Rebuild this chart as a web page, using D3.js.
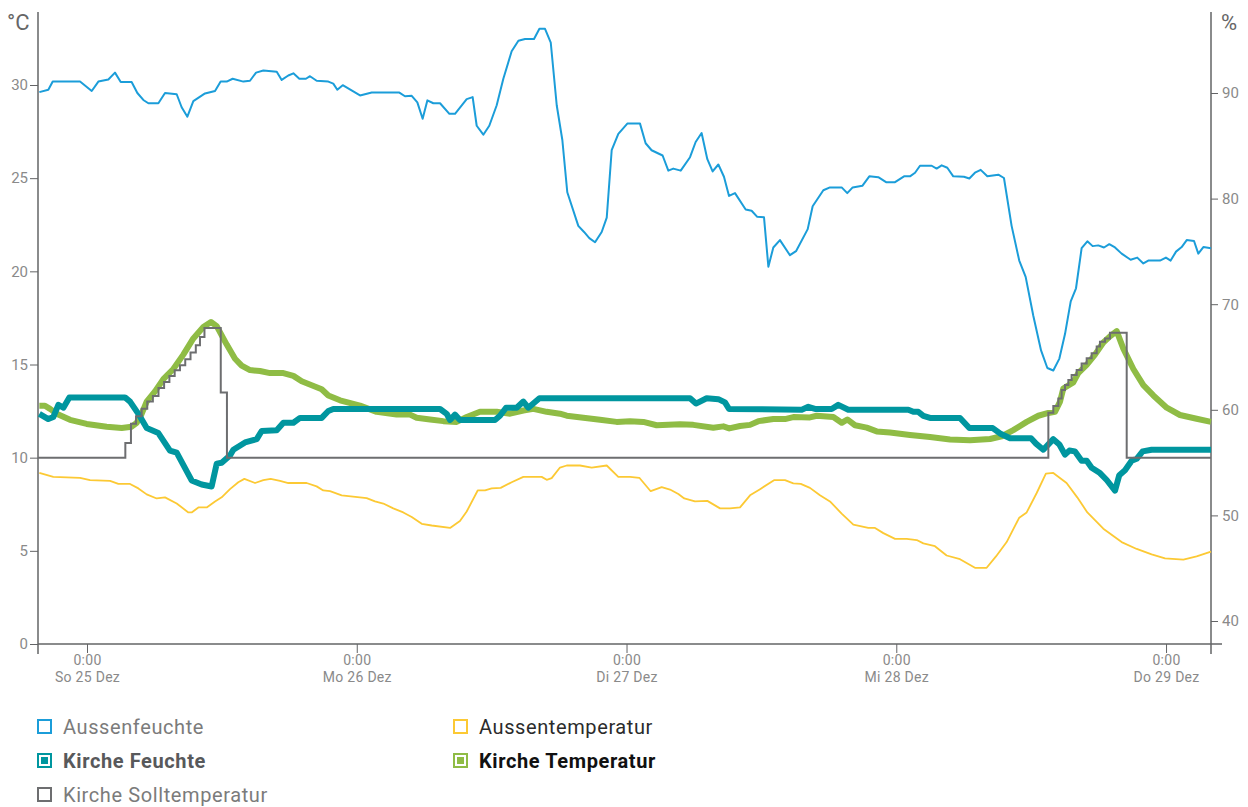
<!DOCTYPE html>
<html>
<head>
<meta charset="utf-8">
<script src="https://cdn.jsdelivr.net/npm/d3@7"></script>
<style>
  body { margin: 0; background: #fff; }
  svg text { font-family: Roboto, "Noto Sans", sans-serif; }
</style>
</head>
<body>
<div id="chart"></div>
<script>
// hours since So 25 Dez 0:00, value
var aussenfeuchte = [[-4.24,90.08],[-3.44,90.31],[-3.05,91.08],[-0.62,91.08],[0.42,90.19],[1.01,91.08],[1.90,91.28],[2.49,91.93],[3.00,91.04],[3.97,91.04],[4.48,90.0],[5.01,89.34],[5.46,89.03],[6.35,89.03],[6.94,90.0],[7.98,89.88],[8.42,88.65],[8.93,87.76],[9.46,89.23],[10.50,89.96],[11.39,90.19],[11.89,91.08],[12.43,91.08],[12.96,91.35],[13.91,91.08],[14.50,91.16],[15.04,91.93],[15.69,92.13],[16.88,92.01],[17.32,91.24],[17.91,91.66],[18.36,91.86],[18.89,91.35],[19.48,91.35],[19.84,91.59],[20.43,91.16],[21.47,91.08],[21.91,90.89],[22.27,90.31],[22.75,90.74],[24.29,89.77],[25.33,90.04],[27.79,90.04],[28.29,89.69],[28.89,89.73],[29.39,89.11],[29.86,87.56],[30.28,89.30],[30.81,89.03],[31.41,89.03],[32.24,88.03],[32.74,88.03],[33.78,89.42],[34.31,89.61],[34.67,86.90],[35.26,86.05],[35.79,86.90],[36.45,88.84],[37.04,91.35],[37.78,93.95],[38.38,94.95],[38.97,95.11],[39.77,95.11],[40.25,96.08],[40.75,96.08],[41.26,94.76],[41.79,88.84],[42.29,85.55],[42.73,80.60],[43.71,77.42],[44.22,76.84],[44.69,76.26],[45.20,75.87],[45.79,76.84],[46.24,78.20],[46.68,84.58],[47.27,86.13],[48.07,87.10],[49.20,87.10],[49.70,85.24],[50.23,84.58],[51.21,84.08],[51.72,82.65],[52.16,82.84],[52.82,82.65],[53.65,83.92],[54.15,85.36],[54.68,86.21],[55.19,83.73],[55.66,82.57],[56.17,83.23],[56.67,82.07],[57.12,80.25],[57.65,80.52],[58.60,78.97],[59.13,78.85],[59.63,78.27],[60.23,78.24],[60.62,73.55],[61.06,75.37],[61.65,76.07],[62.54,74.64],[63.08,75.02],[64.12,77.11],[64.56,79.28],[65.51,80.79],[66.10,81.06],[67.14,81.06],[67.64,80.52],[68.12,81.06],[68.98,81.21],[69.60,82.11],[70.40,82.03],[71.09,81.56],[71.89,81.56],[72.69,82.11],[73.22,82.11],[73.67,82.45],[74.11,83.11],[75.15,83.11],[75.59,82.84],[76.04,83.15],[76.54,82.92],[77.07,82.11],[78.02,82.07],[78.50,81.91],[79.00,82.45],[79.51,82.72],[80.10,82.11],[81.08,82.26],[81.58,81.95],[82.26,77.42],[82.94,74.13],[83.51,72.59],[84.19,68.91],[84.88,65.62],[85.44,63.96],[85.97,63.72],[86.51,64.85],[87.01,67.17],[87.52,70.27],[87.99,71.51],[88.49,75.30],[89.00,75.96],[89.47,75.50],[89.97,75.57],[90.48,75.37],[90.95,75.68],[91.46,75.37],[92.05,74.79],[92.85,74.21],[93.44,74.41],[93.98,73.86],[94.42,74.13],[95.46,74.13],[95.99,74.41],[96.41,74.13],[96.89,74.98],[97.39,75.41],[97.84,76.07],[98.49,75.99],[98.87,74.79],[99.32,75.41],[100.0,75.30]];

var aussentemperatur = [[-4.24,9.18],[-3.0,8.97],[-0.62,8.92],[0.27,8.79],[2.05,8.75],[2.79,8.59],[3.83,8.59],[4.57,8.35],[5.31,8.03],[6.20,7.81],[6.94,7.87],[7.98,7.54],[9.02,7.06],[9.31,7.06],[9.91,7.33],[10.65,7.33],[11.39,7.65],[11.98,7.87],[12.72,8.31],[13.46,8.68],[14.00,8.86],[14.95,8.64],[15.69,8.79],[16.34,8.86],[17.17,8.75],[17.91,8.64],[19.54,8.64],[20.43,8.46],[21.02,8.24],[21.62,8.20],[22.66,7.98],[24.88,7.83],[25.62,7.65],[26.36,7.54],[27.25,7.28],[28.14,7.06],[28.89,6.82],[29.78,6.45],[30.67,6.36],[32.30,6.23],[33.18,6.60],[33.78,7.11],[34.76,8.24],[35.41,8.24],[36.00,8.35],[36.80,8.38],[37.78,8.68],[38.82,8.97],[40.45,8.97],[40.90,8.81],[41.34,8.90],[42.08,9.47],[42.68,9.58],[43.86,9.58],[44.90,9.47],[46.24,9.58],[47.27,8.97],[48.31,8.97],[49.14,8.92],[50.15,8.20],[51.13,8.42],[51.87,8.29],[52.61,8.05],[53.14,7.81],[54.09,7.65],[55.19,7.68],[56.32,7.28],[57.21,7.28],[58.10,7.33],[58.99,7.98],[59.88,8.31],[61.12,8.79],[62.10,8.79],[62.84,8.62],[63.50,8.59],[64.32,8.38],[65.21,7.98],[66.10,7.65],[67.14,7.00],[68.18,6.41],[69.51,6.23],[70.11,6.23],[70.85,5.95],[71.89,5.64],[72.93,5.64],[73.82,5.58],[74.41,5.40],[75.44,5.25],[76.48,4.75],[77.67,4.55],[79.00,4.09],[80.04,4.09],[80.87,4.70],[81.82,5.47],[82.94,6.78],[83.60,7.06],[84.48,8.09],[85.31,9.14],[85.97,9.18],[87.15,8.64],[88.10,7.87],[89.00,7.06],[90.42,6.19],[92.05,5.47],[93.39,5.10],[94.72,4.81],[95.91,4.59],[97.54,4.53],[98.72,4.70],[100.0,4.96]];

var kircheFeuchte = [[-4.24,59.62],[-3.44,59.12],[-3.0,59.31],[-2.55,60.47],[-2.1,60.20],[-1.57,61.17],[3.38,61.17],[3.83,60.78],[4.57,59.62],[5.31,58.27],[6.35,57.80],[7.38,56.14],[7.98,55.95],[9.31,53.31],[10.20,52.93],[11.09,52.74],[11.54,54.90],[11.98,54.98],[12.72,55.67],[13.02,56.22],[14.06,56.91],[15.10,57.22],[15.54,57.99],[16.88,58.07],[17.47,58.77],[18.36,58.77],[18.95,59.23],[20.88,59.23],[21.47,59.89],[21.91,60.08],[31.41,60.08],[32.00,59.62],[32.30,59.04],[32.74,59.54],[33.18,59.04],[36.30,59.04],[36.74,59.43],[37.28,60.20],[38.23,60.20],[38.82,60.78],[39.26,60.20],[40.25,61.09],[53.65,61.09],[54.18,60.59],[55.13,61.09],[56.17,61.01],[56.76,60.70],[57.12,60.08],[63.59,60.01],[64.17,60.28],[64.77,60.08],[66.25,60.08],[66.84,60.47],[67.73,60.01],[73.07,60.01],[73.52,59.81],[73.96,59.81],[74.41,59.43],[75.0,59.23],[77.67,59.23],[78.50,58.27],[80.58,58.27],[81.23,57.76],[82.12,57.30],[83.99,57.30],[84.43,56.80],[85.08,56.22],[85.53,56.72],[85.97,57.22],[86.51,56.72],[87.01,55.75],[87.40,56.14],[87.90,56.06],[88.49,55.17],[88.94,55.17],[89.38,54.51],[90.12,54.01],[90.72,53.35],[91.46,52.34],[91.84,53.81],[92.35,54.28],[92.94,55.17],[93.39,55.36],[93.92,56.06],[94.72,56.22],[100.0,56.22]];

var kircheTemperatur = [[-4.24,12.79],[-3.74,12.79],[-3.29,12.62],[-2.70,12.36],[-1.51,12.03],[-0.03,11.81],[1.75,11.66],[3.09,11.59],[3.97,11.66],[4.42,11.87],[4.87,12.36],[5.31,13.01],[6.05,13.56],[6.79,14.21],[7.68,14.76],[8.57,15.53],[9.46,16.40],[10.35,17.01],[11.03,17.28],[11.54,17.06],[12.43,16.07],[13.17,15.31],[13.76,14.94],[14.50,14.70],[15.39,14.65],[16.28,14.54],[17.47,14.54],[18.36,14.39],[19.10,14.10],[19.99,13.89],[20.88,13.67],[21.47,13.34],[22.51,13.08],[24.29,12.79],[25.77,12.46],[27.55,12.31],[28.74,12.31],[29.33,12.14],[30.52,12.05],[31.70,11.96],[32.89,11.92],[33.78,12.18],[34.96,12.46],[36.45,12.46],[37.64,12.36],[38.82,12.53],[39.71,12.62],[40.90,12.46],[42.08,12.36],[42.68,12.25],[44.16,12.14],[45.64,12.03],[47.12,11.92],[48.31,11.96],[49.50,11.92],[50.68,11.74],[52.76,11.79],[53.94,11.76],[55.72,11.61],[56.61,11.68],[57.14,11.57],[58.10,11.70],[58.99,11.76],[59.73,11.96],[61.06,12.07],[62.10,12.07],[62.84,12.18],[64.32,12.16],[64.92,12.25],[66.40,12.18],[67.14,11.87],[67.64,12.05],[68.33,11.74],[69.37,11.61],[70.26,11.41],[71.44,11.35],[73.22,11.22],[75.0,11.11],[76.78,10.98],[78.56,10.93],[80.34,11.00],[81.38,11.15],[82.41,11.48],[83.60,11.92],[84.64,12.25],[85.53,12.40],[86.12,12.46],[86.57,13.01],[86.86,13.71],[87.75,14.04],[88.19,14.54],[88.94,14.98],[89.68,15.53],[90.42,16.18],[91.01,16.51],[91.61,16.79],[92.20,15.85],[93.09,14.76],[93.98,13.89],[94.87,13.34],[96.06,12.68],[97.24,12.29],[98.72,12.09],[100.0,11.92]];

var kircheSolltemperatur = [[-4.36,10.0],[3.41,10.79],[3.91,11.82],[4.36,12.22],[4.86,12.63],[5.36,13.02],[5.86,13.31],[6.36,13.74],[6.86,14.06],[7.33,14.38],[7.80,14.69],[8.27,14.96],[8.74,15.28],[9.21,15.64],[9.68,16.03],[10.05,16.48],[10.45,16.96],[11.90,13.50],[12.45,10.0],[85.53,12.41],[85.97,12.77],[86.42,13.18],[86.71,13.63],[87.01,13.90],[87.31,14.17],[87.60,14.43],[88.05,14.70],[88.49,15.06],[88.94,15.33],[89.38,15.60],[89.83,15.96],[90.12,16.22],[90.57,16.40],[91.01,16.71],[92.50,10.0],[100.0,10.0]];

var tempTicks = [0, 5, 10, 15, 20, 25, 30];
var humTicks = [40, 50, 60, 70, 80, 90];
var dayHours = [0, 24, 48, 72, 96];
var dayTimes = ["0:00", "0:00", "0:00", "0:00", "0:00"];
var dayNames = ["So 25 Dez", "Mo 26 Dez", "Di 27 Dez", "Mi 28 Dez", "Do 29 Dez"];

var legendItems = [
  { name: "Aussenfeuchte", color: "#1b9dd9", filled: false, bold: false, text: "#7b7b7b" },
  { name: "Aussentemperatur", color: "#fcc934", filled: false, bold: false, text: "#2b2b2b" },
  { name: "Kirche Feuchte", color: "#00969f", filled: true, bold: true, text: "#58595b" },
  { name: "Kirche Temperatur", color: "#8fbc45", filled: true, bold: true, text: "#111111" },
  { name: "Kirche Solltemperatur", color: "#6d6e70", filled: false, bold: false, text: "#7b7b7b" }
];

var width = 1248,
    height = 807;

var svg = d3.select("#chart")
    .append("svg")
    .attr("width", width)
    .attr("height", height);

var x = d3.scaleLinear().domain([-4.36, 100]).range([38, 1211]);
var yTemp = d3.scaleLinear().domain([0, 30]).range([644, 85]);
var yHum = d3.scaleLinear().domain([40, 90]).range([621, 93]);

var axisColor = "#636466",
    labelColor = "#8a8a8a";

// left axis
var gLeft = svg.append("g")
    .attr("transform", "translate(38,0)")
    .call(d3.axisLeft(yTemp).tickValues(tempTicks).tickSize(8).tickPadding(2));
gLeft.select(".domain").remove();
gLeft.selectAll("line").attr("stroke", axisColor);
gLeft.selectAll("text").attr("fill", labelColor)
    .style("font-size", "15px");

// right axis
var gRight = svg.append("g")
    .attr("transform", "translate(1211,0)")
    .call(d3.axisRight(yHum).tickValues(humTicks).tickSize(7).tickPadding(4));
gRight.select(".domain").remove();
gRight.selectAll("line").attr("stroke", axisColor);
gRight.selectAll("text").attr("fill", labelColor)
    .style("font-size", "15px");

// bottom axis
var gBottom = svg.append("g")
    .attr("transform", "translate(0,644)")
    .call(d3.axisBottom(x).tickValues(dayHours).tickSize(9).tickFormat(""));
gBottom.select(".domain").remove();
gBottom.selectAll("line").attr("stroke", axisColor);
gBottom.selectAll(".tick").each(function (d, i) {
    var t = d3.select(this).append("text")
        .attr("fill", labelColor)
        .attr("text-anchor", "middle")
        .style("font-size", "14px")
        .style("letter-spacing", "0.3px");
    t.append("tspan").attr("x", 0).attr("y", 21).text(dayTimes[i]);
    t.append("tspan").attr("x", 0).attr("y", 38).text(dayNames[i]);
});

// axis lines
svg.append("line").attr("x1", 38).attr("x2", 38).attr("y1", 12).attr("y2", 654)
    .attr("stroke", axisColor).attr("stroke-width", 1.5);
svg.append("line").attr("x1", 1211).attr("x2", 1211).attr("y1", 12).attr("y2", 654)
    .attr("stroke", axisColor).attr("stroke-width", 1.5);
svg.append("line").attr("x1", 38).attr("x2", 1222).attr("y1", 644).attr("y2", 644)
    .attr("stroke", axisColor).attr("stroke-width", 1.5);

// unit labels
svg.append("text").attr("x", 7).attr("y", 30).text("°C")
    .attr("fill", "#666").style("font-size", "22px");
svg.append("text").attr("x", 1221).attr("y", 30).text("%")
    .attr("fill", "#666").style("font-size", "22px");

var lineTemp = d3.line()
    .x(function (d) { return x(d[0]); })
    .y(function (d) { return yTemp(d[1]); });
var lineHum = d3.line()
    .x(function (d) { return x(d[0]); })
    .y(function (d) { return yHum(d[1]); });
var lineStep = d3.line()
    .x(function (d) { return x(d[0]); })
    .y(function (d) { return yTemp(d[1]); })
    .curve(d3.curveStepAfter);

svg.append("path").datum(kircheTemperatur)
    .attr("d", lineTemp).attr("fill", "none")
    .attr("stroke", "#8fbc45").attr("stroke-width", 6).attr("stroke-linejoin", "round");

svg.append("path").datum(kircheFeuchte)
    .attr("d", lineHum).attr("fill", "none")
    .attr("stroke", "#00969f").attr("stroke-width", 6).attr("stroke-linejoin", "round");

svg.append("path").datum(kircheSolltemperatur)
    .attr("d", lineStep).attr("fill", "none")
    .attr("stroke", "#6d6e70").attr("stroke-width", 2);

svg.append("path").datum(aussentemperatur)
    .attr("d", lineTemp).attr("fill", "none")
    .attr("stroke", "#fcc934").attr("stroke-width", 1.8).attr("stroke-linejoin", "round");

svg.append("path").datum(aussenfeuchte)
    .attr("d", lineHum).attr("fill", "none")
    .attr("stroke", "#1b9dd9").attr("stroke-width", 2).attr("stroke-linejoin", "round");

// legend
var colX = [37, 453],
    rowY = [727, 761, 795];

var legend = svg.selectAll(".legend-item")
    .data(legendItems)
    .enter().append("g")
    .attr("class", "legend-item")
    .attr("transform", function (d, i) {
        return "translate(" + colX[i % 2] + "," + rowY[Math.floor(i / 2)] + ")";
    });

legend.append("rect")
    .attr("x", 1).attr("y", -7).attr("width", 13).attr("height", 13)
    .attr("fill", "#fff")
    .attr("stroke", function (d) { return d.color; })
    .attr("stroke-width", 2);

legend.filter(function (d) { return d.filled; })
    .append("rect")
    .attr("x", 4).attr("y", -4).attr("width", 7).attr("height", 7)
    .attr("fill", function (d) { return d.color; });

legend.append("text")
    .attr("x", 26).attr("y", 7)
    .text(function (d) { return d.name; })
    .attr("fill", function (d) { return d.text; })
    .style("font-size", "20px")
    .style("letter-spacing", "0.6px")
    .style("font-weight", function (d) { return d.bold ? "bold" : "normal"; });
</script>
</body>
</html>
